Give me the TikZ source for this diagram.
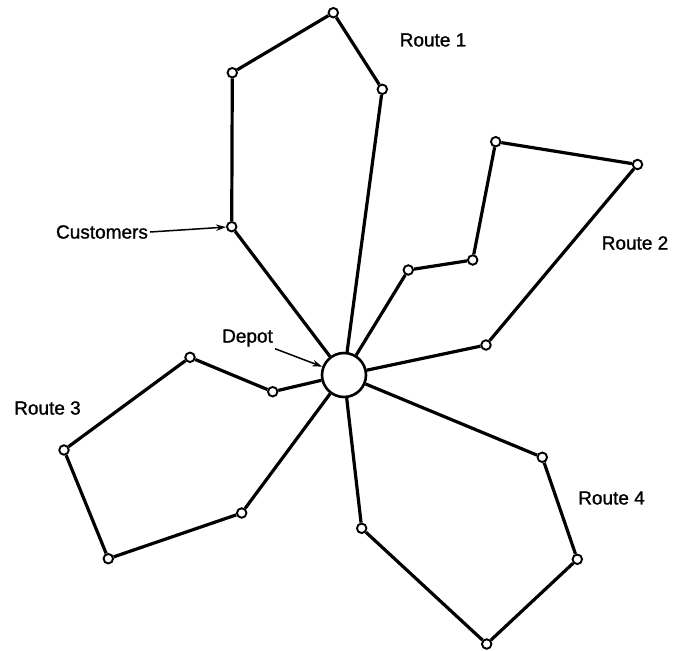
\documentclass[tikz,border=0pt]{standalone}
\usepackage{fontspec}
\setmainfont{Liberation Sans}
\newfontfamily\labfont{Liberation Sans}[BoldFont=Liberation Sans,BoldFeatures={FakeBold=1.2}]
\usetikzlibrary{arrows.meta}
\begin{document}
\begin{tikzpicture}[x=1pt,y=-1pt,
  cust/.style={circle,draw,fill=white,inner sep=0pt,minimum size=9.5pt,line width=1.9pt},
  depotbox/.style={circle,draw,fill=white,inner sep=0pt,minimum size=44pt,line width=2.6pt},
  route/.style={line width=3.2pt},
  lab/.style={font=\labfont\bfseries\fontsize{19}{22}\selectfont,inner sep=2pt},
  pointer/.style={line width=1.5pt,-{Stealth[length=10pt,width=6.5pt]}}]
\useasboundingbox (0,0) rectangle (674,650);
\node[depotbox] (D) at (344,375) {};
% Route 1
\node[cust] (r1a) at (231.7,226.7) {};
\node[cust] (r1b) at (232.3,72.7) {};
\node[cust] (r1c) at (333.3,12.7) {};
\node[cust] (r1d) at (382.3,89.3) {};
% Route 2
\node[cust] (r2a) at (408.3,270) {};
\node[cust] (r2b) at (472.7,260) {};
\node[cust] (r2c) at (495.7,141.7) {};
\node[cust] (r2d) at (637.5,164.5) {};
\node[cust] (r2e) at (486,345) {};
% Route 3
\node[cust] (r3a) at (272.7,391.7) {};
\node[cust] (r3b) at (190,357.3) {};
\node[cust] (r3c) at (64,450) {};
\node[cust] (r3d) at (108.3,558.7) {};
\node[cust] (r3e) at (241.7,513) {};
% Route 4
\node[cust] (r4a) at (542.3,457.3) {};
\node[cust] (r4b) at (577.3,559.3) {};
\node[cust] (r4c) at (486.7,644) {};
\node[cust] (r4d) at (361.7,528.3) {};
% routes
\draw[route] (D) -- (r1a) -- (r1b) -- (r1c) -- (r1d) -- (D);
\draw[route] (D) -- (r2a) -- (r2b) -- (r2c) -- (r2d) -- (r2e) -- (D);
\draw[route] (D) -- (r3a) -- (r3b) -- (r3c) -- (r3d) -- (r3e) -- (D);
\draw[route] (D) -- (r4a) -- (r4b) -- (r4c) -- (r4d) -- (D);
% labels
\node[lab] (L1) at (433,40) {Route 1};
\node[lab] (L2) at (635,243) {Route 2};
\node[lab] (L3) at (47.5,408) {Route 3};
\node[lab] (L4) at (611.5,498) {Route 4};
\node[lab] (cl) at (102,232) {Customers};
\node[lab] (dl) at (247.5,338) {Depot};
\draw[pointer] (cl.east) -- (r1a);
\draw[pointer] (dl.south east) -- (D);
\end{tikzpicture}
\end{document}
